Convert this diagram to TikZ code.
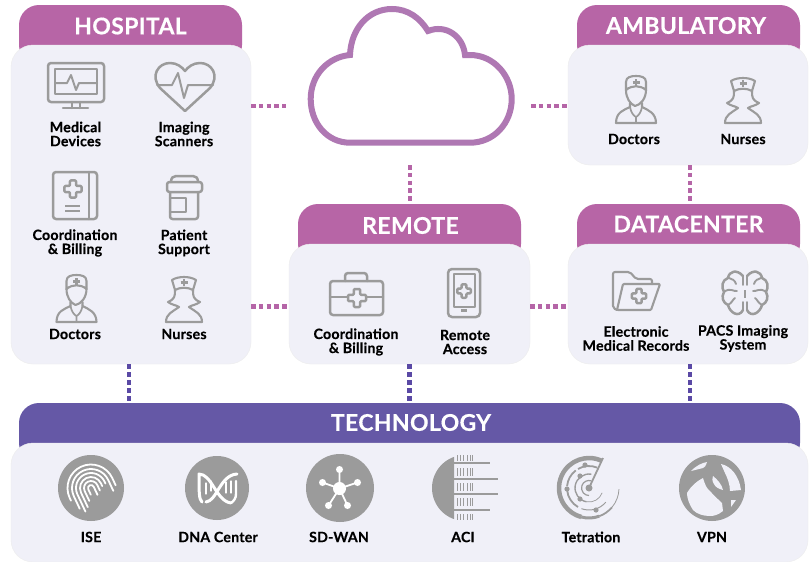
\documentclass[tikz,border=0pt]{standalone}
\usepackage{fontspec}
\setmainfont{Lato}[BoldFeatures={FakeBold=0.35,LetterSpace=1.5}]
\definecolor{hdr}{HTML}{B765A6}
\definecolor{tech}{HTML}{6558A6}
\definecolor{bodyc}{HTML}{F0F0F8}
\definecolor{icon}{HTML}{9B9B9B}
\definecolor{cloudc}{HTML}{AF78B3}
\definecolor{dotp}{HTML}{B565A7}
\definecolor{dotb}{HTML}{5A49A5}
\tikzset{
 panelbody/.style={fill=bodyc,draw=black!7,line width=.4pt,rounded corners=22pt,inner sep=0,outer sep=0},
 headtext/.style={text=white,font=\bfseries\fontsize{23}{24}\selectfont,minimum height=40pt,inner sep=0,outer sep=0},
 lab/.style={align=center,font=\bfseries\fontsize{14.2}{14}\selectfont,text=black,inner sep=0},
 ic/.style={draw=icon,line width=2.5pt,line join=round,line cap=round,fill=none},
 icthin/.style={draw=icon,line width=1.7pt,line join=round,line cap=round},
 wht/.style={draw=white,line width=1.8pt,line cap=round,line join=round},
 linkp/.style={draw=dotp,line width=4.5pt,dash pattern=on 4.5pt off 3.3pt},
 linkb/.style={draw=dotb,line width=4.5pt,dash pattern=on 4.5pt off 3.5pt},
 pics/plus/.style={code={
   \draw[icon,line width=#1,line cap=butt] (-3.5,0)--(3.5,0) (0,-3.5)--(0,3.5);}},
 pics/crossout/.style={code={
   \draw[ic,rounded corners=1pt] (-3.2,-9)--(3.2,-9)--(3.2,-3.2)--(9,-3.2)--(9,3.2)--(3.2,3.2)--(3.2,9)--(-3.2,9)--(-3.2,3.2)--(-9,3.2)--(-9,-3.2)--(-3.2,-3.2)--cycle;}},
 pics/doctor/.style={code={
   \draw[ic,line width=2.1pt] (-10,14) -- (-10,6) .. controls (-10,1) and (-5,0) .. (0,0) .. controls (5,0) and (10,1) .. (10,6) -- (10,14) .. controls (4,9) and (-4,9) .. (-10,14);
   \draw[ic,line width=2.1pt] (-10,14) .. controls (-10,22) and (-6,28) .. (-1,30) .. controls (5,29) and (10,22) .. (10,14);
   \draw[ic,line width=2.1pt] (-6,27) -- (-6,31) .. controls (-12,34) and (-20,36) .. (-20,47) -- (20,47) .. controls (20,37) and (12,34) .. (6,31) -- (6,27);
   \draw[ic,line width=1.7pt] (-6,31) .. controls (-5,37) and (-2,40) .. (0,41) .. controls (2,40) and (5,37) .. (6,31) (0,41) -- (0,47);
   \pic at (0,6.5) {plus=2.6pt};}},
 pics/nurse/.style={code={
   \draw[ic,line width=2.1pt] (-12,4) .. controls (-6,0) and (6,0) .. (12,4) -- (9,14) .. controls (4,11) and (-4,11) .. (-9,14) -- cycle;
   \draw[ic,line width=2.1pt] (-9,14) .. controls (-9,20) and (-9,23) .. (-16,26) .. controls (-12,29) and (-8,29) .. (-5,31) .. controls (-12,36) and (-18,38) .. (-18,46) -- (18,46) .. controls (18,38) and (12,36) .. (5,31) .. controls (8,29) and (12,29) .. (16,26) .. controls (9,23) and (9,20) .. (9,14);
   \pic at (0,6.5) {plus=2.6pt};}}
}
\begin{document}
\begin{tikzpicture}[x=1pt,y=-1pt]
\useasboundingbox (0,0) rectangle (812,562);
\fill[white] (0,0) rectangle (812,562);
% headers
\fill[hdr,rounded corners=20pt] (19,65)--(19,5)--(242,5)--(242,65)--cycle;
\fill[hdr,rounded corners=20pt] (298,264)--(298,204)--(521,204)--(521,264)--cycle;
\fill[hdr,rounded corners=20pt] (577,65)--(577,5)--(800,5)--(800,65)--cycle;
\fill[hdr,rounded corners=20pt] (577,264)--(577,204)--(800,204)--(800,264)--cycle;
\fill[tech,rounded corners=20pt] (19,463)--(19,403)--(800,403)--(800,463)--cycle;
\node[headtext,minimum width=223pt] (hospitalhead) at (130.5,26) {HOSPITAL};
\node[headtext,minimum width=223pt] (remotehead) at (410.5,225.5) {REMOTE};
\node[headtext,minimum width=223pt] (ambulatoryhead) at (686,25.5) {AMBULATORY};
\node[headtext,minimum width=223pt] (datacenterhead) at (688.5,224) {DATACENTER};
\node[headtext,minimum width=781pt] (technologyhead) at (411,422.5) {TECHNOLOGY};
% panels
\node[panelbody,minimum width=240pt,minimum height=319pt] (hospital) at (131,204.5) {};
\node[panelbody,minimum width=241pt,minimum height=120pt] (remote) at (409.5,304) {};
\node[panelbody,minimum width=240pt,minimum height=120pt] (ambulatory) at (688,105) {};
\node[panelbody,minimum width=240pt,minimum height=120pt] (datacenter) at (688,304) {};
\node[panelbody,minimum width=797pt,minimum height=119pt] (technology) at (409.5,502.5) {};
% cloud
\draw[cloudc,line width=6pt,miter limit=4] (350,142.7) .. controls (327,142.7) and (310.7,123) .. (310.7,99) .. controls (310.7,75) and (328,57) .. (350,55)
 .. controls (351,29) and (368,9) .. (392,9) .. controls (408,9) and (420,18) .. (428,31)
 .. controls (446,24) and (463,36) .. (465,55)
 -- (470,55) .. controls (494,55) and (511.7,76) .. (511.7,99) .. controls (511.7,123) and (494,142.7) .. (470,142.7) -- cycle;
\coordinate (cloudw) at (286,106);
\coordinate (cloude) at (531,106);
\coordinate (clouds) at (410,165);
\coordinate (hostoremote) at (251,306.5);
% links
\draw[linkp] (hospital.east |- cloudw) -- (cloudw);
\draw[linkp] (cloude) -- (ambulatory.west |- cloude);
\draw[linkp] (clouds) -- (clouds |- remotehead.north);
\draw[linkp] ([xshift=2pt]ambulatory.south) -- ([xshift=2pt]ambulatory.south |- datacenterhead.north);
\draw[linkp] (hostoremote) -- (remote.west |- hostoremote);
\draw[linkp] (remote.east |- hostoremote) -- (datacenter.west |- hostoremote);
\draw[linkb] ([xshift=-2pt]hospital.south) -- ([xshift=-2pt]hospital.south |- technologyhead.north);
\draw[linkb] (remote.south) -- (remote.south |- technologyhead.north);
\draw[linkb] ([xshift=2pt]datacenter.south) -- ([xshift=2pt]datacenter.south |- technologyhead.north);
% monitor
\draw[ic,rounded corners=3pt] (48,63) rectangle (104,102);
\draw[ic,line width=2pt] (55,69) rectangle (97,94);
\draw[ic,line width=2pt] (55,83)--(67,83)--(71,75)--(76,90)--(79,83)--(97,83);
\draw[ic] (72,102)--(72,108) (80,102)--(80,108) (63,108)--(88,108);
% heart
\draw[ic] (185,111) -- (160,88) .. controls (150,76) and (158,63) .. (170,63) .. controls (177,63) and (182,67) .. (185,71) .. controls (188,67) and (193,63) .. (200,63) .. controls (212,63) and (220,76) .. (210,88) -- cycle;
\draw[ic,line width=2pt] (157,85)--(172,85)--(178,73)--(184,98)--(188,85)--(213,85);
% book
\draw[ic,rounded corners=3pt] (53,172) rectangle (97,219);
\draw[ic] (89,172)--(89,219);
\pic[scale=.95] at (73,189) {crossout};
\draw[ic,line width=2pt,line cap=butt] (65,206)--(80,206) (65,211)--(80,211);
% jar
\draw[ic,rounded corners=2.5pt] (167,182) rectangle (202,192);
\draw[ic] (171,182) .. controls (171,178) and (173,176) .. (176,176) -- (193,176) .. controls (196,176) and (198,178) .. (198,182);
\draw[ic,rounded corners=2.5pt] (170,192) -- (170,219) -- (198,219) -- (198,192);
\draw[ic] (170,198) -- (186,198) -- (186,212) -- (170,212);
% people
\pic at (76.5,275) {doctor};
\pic at (184,276) {nurse};
\pic at (636,76) {doctor};
\pic at (743,77) {nurse};
% toolbox
\draw[ic,rounded corners=3pt] (330,281) rectangle (383,315);
\draw[ic,rounded corners=3pt] (345,281) -- (345,273) -- (367,273) -- (367,281);
\draw[ic] (330,297)--(347,297) (367,297)--(383,297);
\fill[bodyc,rounded corners=1pt] (353,288) rectangle (361,308);
\pic at (357,298) {crossout};
% phone
\draw[ic,rounded corners=4pt] (448,269) rectangle (480,317);
\draw[ic,line width=1.8pt] (454,274) rectangle (475,307);
\pic[scale=.75] at (464,291) {crossout};
\draw[ic,line cap=butt] (461,310.5)--(467,310.5);
% folder
\draw[ic,line width=2.1pt,rounded corners=2pt] (617,310) -- (613,308) -- (613,272) -- (630,272) -- (636,279) -- (652,279) -- (652,284);
\draw[ic,line width=2.1pt,rounded corners=1pt] (623,284) -- (660,284) -- (651,310) -- (617,310) -- cycle;
\pic[scale=.8] at (639,296) {crossout};
% brain
\begin{scope}[shift={(745,293)}]
\foreach \s in {1,-1}{
 \draw[ic,xscale=\s] (-2,-17) .. controls (-8,-24) and (-16,-22) .. (-17,-15) .. controls (-23,-13) and (-24,-6) .. (-21,-1) .. controls (-24,4) and (-22,10) .. (-17,12) .. controls (-15,20) and (-6,25) .. (-2,17);
 \draw[ic,line width=1.9pt,xscale=\s] (-2,-17)--(-2,-8) (-2,9)--(-2,17) (-16,-15) .. controls (-13,-14) and (-10,-13) .. (-9,-9) (-21,-1) .. controls (-15,-6) and (-11,-1) .. (-8,-2) (-17,12) .. controls (-13,10) and (-12,6) .. (-10,5);
}
\draw[icon,line width=2.6pt] (0,-3)--(0,5);
\end{scope}
% ISE fingerprint
\fill[icon] (91,488) circle (33);
\begin{scope}[shift={(91,488)},rotate=25]
\foreach \r/\a/\b in {3/6/9,7/11/6,11/16/3,15/19/2,19/14/12,23.5/3/8}{
 \draw[wht] (-\r,\a) -- (-\r,0) arc[start angle=180,end angle=360,x radius=\r,y radius=\r] -- (\r,\b);
}
\end{scope}
% DNA
\fill[icon] (217,488) circle (32);
\begin{scope}[shift={(217,488)}]
\draw[wht,line width=3pt] (-15,14) .. controls (-18,11) and (-18,5) .. (-18,-14) .. controls (-5,-14) and (-1,13) .. (14,15);
\draw[wht,line width=3pt] (-11,14) .. controls (0,13) and (3,-13) .. (20,-14);
\draw[wht,line width=2.4pt] (19,-7) -- (19,6) .. controls (19,10) and (17,13) .. (14,15);
\draw[wht,line width=1.2pt] (-11,-5)--(-11,6) (-6,-7)--(-6,3) (9,-6)--(9,5) (14,-7)--(14,5);
\end{scope}
% SD-WAN
\fill[icon] (340,488) circle (34);
\begin{scope}[shift={(339.5,488.5)}]
\draw[wht] (0,0)--(0,-19) (0,0)--(18,-6) (0,0)--(8,17) (0,0)--(-11,17) (0,0)--(-17,-6);
\fill[white] (0,0) circle (6.5) (0,-19) circle (3.5) (18,-6) circle (3.5) (8,17) circle (3.5) (-11,17) circle (3.5) (-17,-6) circle (3.5);
\end{scope}
% ACI
\begin{scope}
\clip (420,450) rectangle (454,526);
\fill[icon] (465,488) circle (33);
\end{scope}
\draw[icon,line width=1.5pt] (454,463)--(490,463) (454,479)--(498,479) (454,494)--(498,494) (454,510)--(490,510);
\foreach \x in {457,460,463.5,467,470,472}{
 \draw[icon,line width=.9pt] (\x,455)--(\x,461) (\x,468)--(\x,476) (\x,483)--(\x,491) (\x,498)--(\x,506) (\x,514)--(\x,520);
}
% Tetration
\begin{scope}[shift={(589,488)}]
\draw[icon,line width=4.5pt] (-65:30) arc[start angle=-65,end angle=-255,radius=30];
\draw[icon,line width=3pt] (-255:30) arc[start angle=-255,end angle=-290,radius=30];
\draw[icon,line width=1.8pt] (-290:30) arc[start angle=-290,end angle=-320,radius=30];
\draw[icon,line width=.8pt] (-320:30) arc[start angle=-320,end angle=-358,radius=30];
\draw[icon,line width=1.8pt] (-68:22) arc[start angle=-68,end angle=-120,radius=22];
\draw[icon,line width=1.8pt] (-127:22) arc[start angle=-127,end angle=-175,radius=22];
\draw[icon,line width=1.8pt] (-185:22) arc[start angle=-185,end angle=-240,radius=22];
\draw[icon,line width=1pt] (-250:22) arc[start angle=-250,end angle=-320,radius=22];
\draw[icon,line width=1.4pt] (-80:14) arc[start angle=-80,end angle=-260,radius=14];
\draw[icon,line width=.7pt] (-260:14) arc[start angle=-260,end angle=-340,radius=14];
\draw[icon,line width=1.2pt] (-70:7.5) arc[start angle=-70,end angle=-270,radius=7.5];
\draw[icon,line width=1.8pt] (0,0) -- (14,-30);
\fill[icon] (0,0) circle (3.5) (-4,-23) circle (2.6) (-9,-12) circle (2.6) (-22,1) circle (2.6) (-9,11) circle (2.6) (7,22) circle (2.6);
\end{scope}
% VPN
\begin{scope}[shift={(712,488)}]
\fill[icon] (0,0) circle (33);
\fill[bodyc] (-21,-17) .. controls (-15,-23) and (-10,-25) .. (-5,-26) .. controls (-6,-22) and (-8,-20) .. (-9,-20) .. controls (-13,-19) and (-17,-18) .. (-21,-17) -- cycle;
\fill[bodyc] (9,-24) .. controls (19,-22) and (27,-12) .. (29,2) -- (18,3) .. controls (18,-4) and (15,-11) .. (13,-15) -- cycle;
\fill[bodyc] (1,-12) .. controls (6,-8) and (10,-3) .. (11,2) .. controls (7,1) and (3,-1) .. (2,-4) .. controls (0,-7) and (0,-10) .. (1,-12) -- cycle;
\fill[bodyc] (-25,5) .. controls (-21,-2) and (-15,-7) .. (-9,-10) .. controls (-7,-3) and (-5,1) .. (-2,3) .. controls (2,8) and (7,12) .. (10,15) -- (11,23) .. controls (6,27) and (2,28) .. (-2,28) .. controls (-9,28) and (-15,26) .. (-19,22) .. controls (-23,16) and (-25,10) .. (-25,5) -- cycle;
\fill[bodyc] (19,12) -- (24,12) -- (19,19) -- cycle;
\end{scope}
% labels
\node[lab] (l1) at (75.5,134) {Medical\\Devices};
\node[lab] (l2) at (184,134) {Imaging\\Scanners};
\node[lab] (l3) at (75,243) {Coordination\\\& Billing};
\node[lab] (l4) at (184,243) {Patient\\Support};
\node[lab] (l5) at (75,334) {Doctors};
\node[lab] (l6) at (184,334) {Nurses};
\node[lab] (l7) at (356,342) {Coordination\\\& Billing};
\node[lab] (l8) at (465,342) {Remote\\Access};
\node[lab] (l9) at (634,139) {Doctors};
\node[lab] (l10) at (743,139) {Nurses};
\node[lab] (l11) at (636,338.5) {Electronic\\Medical Records};
\node[lab] (l12) at (743,338.5) {PACS Imaging\\System};
\node[lab] (l13) at (91,537) {ISE};
\node[lab] (l14) at (218,537) {DNA Center};
\node[lab] (l15) at (339,537) {SD-WAN};
\node[lab] (l16) at (463,537) {ACI};
\node[lab] (l17) at (591,537) {Tetration};
\node[lab] (l18) at (712,537) {VPN};
\end{tikzpicture}
\end{document}
